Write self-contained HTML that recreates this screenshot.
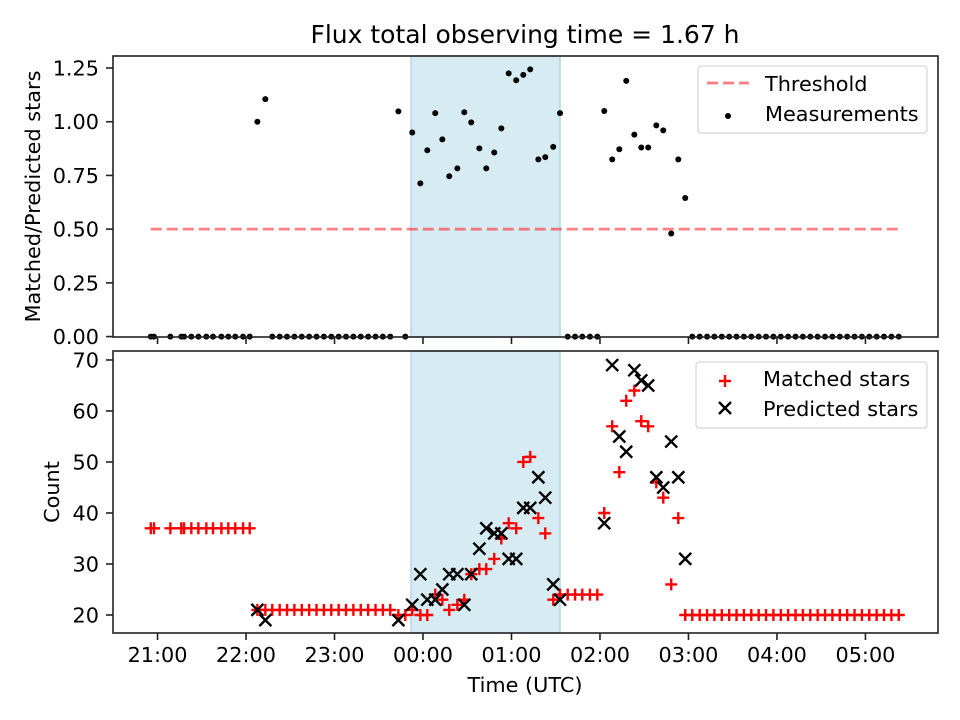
<!DOCTYPE html>
<html><head><meta charset="utf-8"><style>
html,body{margin:0;padding:0;background:#fff;}
svg{display:block;font-family:"DejaVu Sans","Liberation Sans",sans-serif;}
</style></head><body>
<svg id="chart" width="960" height="720" viewBox="0 0 960 720" xmlns="http://www.w3.org/2000/svg"></svg>
<script>
const timesMin = [-4.6,-2.4,8.7,16.1,18.0,22.9,27.7,33.1,37.6,43.3,48.0,52.7,58.0,62.5,
67.7,73.1,
77.8,82.8,87.8,92.8,97.8,102.8,107.8,112.8,117.8,122.8,127.8,132.8,137.8,142.8,147.8,152.8,157.8,
163.3,168.0,172.7,178.2,182.9,188.3,193.1,197.8,203.3,208.0,212.7,218.2,222.9,228.3,233.1,238.1,243.2,248.0,252.7,258.2,262.9,268.3,272.9,
278.1,283.1,288.0,293.2,298.2,
302.9,308.3,313.1,317.8,323.3,328.0,332.7,338.2,342.9,348.3,353.1,357.8,
362.6,367.6,372.6,377.6,382.6,387.6,392.6,397.6,402.6,407.6,412.6,417.6,422.6,427.6,432.6,437.6,442.6,447.6,452.6,457.6,462.6,467.6,472.6,477.6,482.6,487.6,492.6,497.6,502.6];
const matched = [37,37,37,37,37,37,37,37,37,37,37,37,37,37,
21,21,
21,21,21,21,21,21,21,21,21,21,21,21,21,21,21,21,21,
20,20,21,20,20,24,23,21,22,23,28,29,29,31,35,38,37,50,51,39,36,23,24,
24,24,24,24,24,
40,57,48,62,64,58,57,46,43,26,39,20,
20,20,20,20,20,20,20,20,20,20,20,20,20,20,20,20,20,20,20,20,20,20,20,20,20,20,20,20,20];
const predicted = [null,null,null,null,null,null,null,null,null,null,null,null,null,null,
21,19,
null,null,null,null,null,null,null,null,null,null,null,null,null,null,null,null,null,
19,null,22,28,23,23,25,28,28,22,28,33,37,36,36,31,31,41,41,47,43,26,23,
null,null,null,null,null,
38,69,55,52,68,66,65,47,45,54,47,31,
null,null,null,null,null,null,null,null,null,null,null,null,null,null,null,null,null,null,null,null,null,null,null,null,null,null,null,null,null];
const ratio = [0,0,0,0,0,0,0,0,0,0,0,0,0,0,
1.0,1.105,
0,0,0,0,0,0,0,0,0,0,0,0,0,0,0,0,0,
1.048,0,0.95,0.713,0.867,1.04,0.918,0.746,0.783,1.044,0.997,0.876,0.783,0.857,0.969,1.225,1.193,1.218,1.244,0.825,0.835,0.883,1.04,
0,0,0,0,0,
1.05,0.825,0.872,1.19,0.94,0.88,0.88,0.983,0.96,0.48,0.825,0.645,
0,0,0,0,0,0,0,0,0,0,0,0,0,0,0,0,0,0,0,0,0,0,0,0,0,0,0,0,0];
const threshold = 0.5;
const windowStart = 171.9, windowEnd = 272.9;
const xTickMin = [0,60,120,180,240,300,360,420,480];
const xTickLabels = ["21:00","22:00","23:00","00:00","01:00","02:00","03:00","04:00","05:00"];
const topTicks = [0,0.25,0.5,0.75,1.0,1.25];
const topTickLabels = ["0.00","0.25","0.50","0.75","1.00","1.25"];
const botTicks = [20,30,40,50,60,70];
const botTickLabels = ["20","30","40","50","60","70"];

const NS="http://www.w3.org/2000/svg";
const svg=document.getElementById('chart');
function mk(tag,attrs,parent){const e=document.createElementNS(NS,tag);for(const k in attrs)e.setAttribute(k,attrs[k]);(parent||svg).appendChild(e);return e;}
const L=113,R=938;
const xMin=-30.2,xMax=529.2;
const X=m=>L+(m-xMin)/(xMax-xMin)*(R-L);
const T={top:56,bot:337,min:-0.002,max:1.306};
const B={top:351,bot:633,min:16.47,max:71.76};
const Yt=v=>T.bot-(v-T.min)/(T.max-T.min)*(T.bot-T.top);
const Yb=v=>B.bot-(v-B.min)/(B.max-B.min)*(B.bot-B.top);
const LAB=20.8, TK=20.8, TL=7;

let t=mk('text',{x:525,y:43,'text-anchor':'middle','font-size':'25'});t.textContent='Flux total observing time = 1.67 h';


function panel(P,name){
  const g=mk('g',{});
  
  
  const sh=mk('rect',{x:X(windowStart),y:P.top,width:X(windowEnd)-X(windowStart),height:P.bot-P.top,fill:'#add8e6','fill-opacity':'0.5',stroke:'#add8e6','stroke-width':1.5},g);
  
  
  return g;
}
const gTop=panel(T,'ratio-panel');
const gBot=panel(B,'count-panel');

const th=mk('line',{x1:X(timesMin[0]),x2:X(timesMin[timesMin.length-1]),y1:Yt(threshold),y2:Yt(threshold),stroke:'#ff0000','stroke-opacity':'0.5','stroke-width':2.7,'stroke-dasharray':'11,5'},gTop);



timesMin.forEach((m,i)=>{
  const c=mk('circle',{cx:X(m),cy:Yt(ratio[i]),r:3,fill:'#000'},gTop);
  
  
});
timesMin.forEach((m,i)=>{
  if(matched[i]!=null){
    const x=X(m),y=Yb(matched[i]);
    const p=mk('path',{d:`M${x-6},${y}H${x+6}M${x},${y-6}V${y+6}`,stroke:'#ff0000','stroke-width':2.4,fill:'none'},gBot);
    
    
  }
});
timesMin.forEach((m,i)=>{
  if(predicted[i]!=null){
    const x=X(m),y=Yb(predicted[i]);
    const p=mk('path',{d:`M${x-6},${y-6}L${x+6},${y+6}M${x-6},${y+6}L${x+6},${y-6}`,stroke:'#000','stroke-width':2.4,fill:'none'},gBot);
    
    
  }
});

function frame(P){
  const f=mk('rect',{x:L,y:P.top,width:R-L,height:P.bot-P.top,fill:'none',stroke:'#222','stroke-width':1.6});
  
  
}
frame(T);frame(B);

xTickMin.forEach((m,i)=>{
  const x=X(m);
  mk('line',{x1:x,x2:x,y1:T.bot,y2:T.bot+TL,stroke:'#222','stroke-width':1.6});
  mk('line',{x1:x,x2:x,y1:B.bot,y2:B.bot+TL,stroke:'#222','stroke-width':1.6});
  const tx=mk('text',{x:x,y:662,'text-anchor':'middle','font-size':TK});
  tx.textContent=xTickLabels[i];
  
  
});
topTicks.forEach((v,i)=>{
  const y=Yt(v);
  mk('line',{x1:L-TL,x2:L,y1:y,y2:y,stroke:'#222','stroke-width':1.6});
  const tx=mk('text',{x:L-TL-7,y:y+7.5,'text-anchor':'end','font-size':TK});
  tx.textContent=topTickLabels[i];
  
  
});
botTicks.forEach((v,i)=>{
  const y=Yb(v);
  mk('line',{x1:L-TL,x2:L,y1:y,y2:y,stroke:'#222','stroke-width':1.6});
  const tx=mk('text',{x:L-TL-7,y:y+7.5,'text-anchor':'end','font-size':TK});
  tx.textContent=botTickLabels[i];
  
  
});
let a=mk('text',{x:525,y:692,'text-anchor':'middle','font-size':LAB});a.textContent='Time (UTC)';

a=mk('text',{x:0,y:0,'text-anchor':'middle','font-size':LAB,transform:`translate(40,${(T.top+T.bot)/2}) rotate(-90)`});a.textContent='Matched/Predicted stars';

a=mk('text',{x:0,y:0,'text-anchor':'middle','font-size':LAB,transform:`translate(59,${(B.top+B.bot)/2}) rotate(-90)`});a.textContent='Count';


function legendBox(x,y,w,h,name){
  const g=mk('g',{});
  
  
  mk('rect',{x:x,y:y,width:w,height:h,rx:3,fill:'#fff','fill-opacity':0.8,stroke:'#ccc','stroke-width':1},g);
  return g;
}
let lg=legendBox(698,66,229,67,'top-legend');
mk('line',{x1:707,x2:749,y1:83,y2:83,stroke:'#ff0000','stroke-opacity':0.5,'stroke-width':2.7,'stroke-dasharray':'11,5'},lg);
let lt=mk('text',{x:765,y:91,'font-size':LAB},lg);lt.textContent='Threshold';

mk('circle',{cx:728,cy:116,r:3,fill:'#000'},lg);
lt=mk('text',{x:765,y:121,'font-size':LAB},lg);lt.textContent='Measurements';


lg=legendBox(696,362,231,66,'bottom-legend');
mk('path',{d:'M719,381H731M725,375V387',stroke:'#ff0000','stroke-width':2.4},lg);
lt=mk('text',{x:763,y:386,'font-size':LAB},lg);lt.textContent='Matched stars';

mk('path',{d:'M719,402L731,414M719,414L731,402',stroke:'#000','stroke-width':2.4},lg);
lt=mk('text',{x:763,y:416,'font-size':LAB},lg);lt.textContent='Predicted stars';

</script>
</body></html>
